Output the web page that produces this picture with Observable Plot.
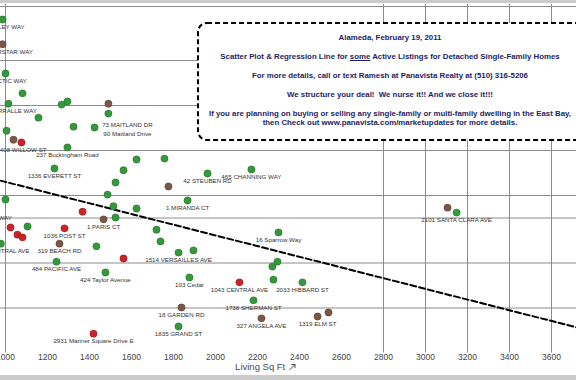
<!DOCTYPE html>
<html>
<head>
<meta charset="utf-8">
<script src="https://cdn.jsdelivr.net/npm/d3@7"></script>
<script src="https://cdn.jsdelivr.net/npm/@observablehq/plot@0.6"></script>
<style>
html,body{margin:0;padding:0;width:576px;height:380px;overflow:hidden;background:#cbcbcb;font-family:"Liberation Sans",Arial,sans-serif;}
#chart{position:absolute;left:0;top:3px;width:576px;height:372px;background:#fff;overflow:hidden;}
#chart svg.plot{position:absolute;left:0;top:0;}
#box{position:absolute;left:197px;top:19px;width:420px;height:119px;}
#box svg{position:absolute;left:0;top:0;}
.ln{position:absolute;left:-207px;width:800px;text-align:center;color:#1e1e62;font-weight:bold;white-space:nowrap;line-height:1;}
#xtitle{position:absolute;left:166px;width:200px;top:358px;text-align:center;font-size:9.5px;color:#4a4a4a;white-space:nowrap;}
</style>
</head>
<body>
<div id="chart"></div>
<script>
// ---- data (living sq ft, list price in $K, status, data label) ----
const sqft = [986, 986, 1000, 1081, 1014, 1267, 1295, 1490, 1490, 1157,
  1324, 1424, 1005, 1038, 1076, 1295, 1624, 1757, 1562, 1233,
  1524, 1776, 1962, 2171, 1000, 1486, 1367, 1514, 1624, 1524,
  1467, 1867, 1024, 1105, 1057, 1081, 1281, 1257, 1433, 978,
  1719, 1738, 1895, 1824, 1562, 1243, 1476, 1876, 1838, 1824,
  1419, 2300, 2271, 2295, 2114, 2276, 2414, 2181, 2219, 2486,
  2538, 3105, 3148];
const price = [941, 886, 821, 777, 754, 752, 759, 754, 732, 723,
  703, 701, 694, 674, 668, 657, 630, 632, 606, 610,
  579, 570, 599, 608, 541, 552, 514, 526, 521, 501,
  497, 539, 479, 481, 463, 457, 477, 443, 437, 443,
  474, 448, 428, 423, 410, 403, 379, 368, 301, 259,
  243, 468, 392, 403, 357, 363, 357, 317, 277, 281,
  290, 523, 512];
const status = ["A","P","A","A","A","A","A","P","A","A",
  "A","A","A","P","S","A","A","A","A","A",
  "A","P","A","A","A","A","S","A","A","A",
  "P","A","S","A","S","S","S","P","A","A",
  "A","A","A","A","S","A","A","A","P","A",
  "S","A","A","A","S","A","A","A","P","P",
  "P","P","A"];
const labels = ["9 GALLEY WAY","18 POLARSTAR WAY","3 ARCTIC WAY","","17 CORRALLE WAY","","","73 MAITLAND DR","90 Maitland Drive","",
  "","","","","1408 WILLOW ST","237 Buckingham Road","","","","1336 EVERETT ST",
  "","","42 STEUBEN RD","465 CHANNING WAY","1 ALDER WAY","","","","","",
  "1 PARIS CT","1 MIRANDA CT","","","","","1036 POST ST","319 BEACH RD","","1533 CENTRAL AVE",
  "","","","1514 VERSAILLES AVE","","484 PACIFIC AVE","424 Taylor Avenue","103 Cedar","18 GARDEN RD","1835 GRAND ST",
  "2931 Mariner Square Drive E","16 Sparrow Way","","","1043 CENTRAL AVE","","2033 HIBBARD ST","1738 SHERMAN ST","327 ANGELA AVE","1319 ELM ST",
  "","","2101 SANTA CLARA AVE"];
const statusKeys = ["A","P","S"];
const statusColors = ["#34993a","#7b5748","#cc2228"];
// regression line (endpoints)
const trendSqft = [976, 3719];
const trendPrice = [583, 257];
// ticks / grid
const xTicks = [1000,1200,1400,1600,1800,2000,2200,2400,2600,2800,3000,3200,3400,3600];
const xGrid = [1000,2800,3000,3200,3400,3600];
const yGrid = [300,400,500,550,650,750,850,970];
const boxLines = [
  "Alameda, February 19, 2011",
  "Scatter Plot & Regression Line for <u>some</u> Active Listings for Detached Single-Family Homes",
  "For more details, call or text Ramesh at Panavista Realty at (510) 316-5206",
  "We structure your deal!&nbsp; We nurse it!! And we close it!!!",
  "If you are planning on buying or selling any single-family or multi-family dwelling in the East Bay,",
  "then Check out www.panavista.com/marketupdates for more details."
];
const axisTitle = "Living Sq Ft";

// ---- build ----
const pts = sqft.map((s,i)=>({sqft:s, price:price[i], status:status[i], label:labels[i]}));
const trend = trendSqft.map((s,i)=>({sqft:s, price:trendPrice[i]}));
const nudge = {"73 MAITLAND DR":[19,21], "90 Maitland Drive":[19,20], "1 ALDER WAY":[-14,18]};
const lab = pts.filter(d=>d.label);
const labelStyle = {x:"sqft", y:"price", text:"label", fontSize:6.2, fill:"#333", lineAnchor:"middle"};

const marks = [
  Plot.gridY(yGrid, {stroke:"#8c8c8c", strokeOpacity:1}),
  Plot.gridX(xGrid, {stroke:"#8c8c8c", strokeOpacity:1}),
  Plot.line(trend, {x:"sqft", y:"price", stroke:"#000", strokeWidth:2, strokeDasharray:"6,3"}),
  Plot.dot(pts, {x:"sqft", y:"price", fill:"status", r:3.7, stroke:"#000", strokeOpacity:0.3, strokeWidth:0.6}),
  Plot.text(lab.filter(d=>!nudge[d.label]), {...labelStyle, dy:7.5}),
  ...Object.entries(nudge).map(([k,[dx,dy]]) => Plot.text(lab.filter(d=>d.label===k), {...labelStyle, dx, dy})),
  Plot.axisX(xTicks, {tickSize:0, tickPadding:1, fontSize:8.5, fill:"#444", label:null, tickFormat:d=>String(d)})
];

const plot = Plot.plot({
  width:576, height:372,
  marginLeft:0, marginRight:0, marginTop:0.75, marginBottom:22.5,
  style:{fontFamily:'"Liberation Sans",Arial,sans-serif', background:"transparent", overflow:"visible"},
  x:{domain:[976.2,3719]},
  y:{domain:[200,975], axis:null},
  color:{domain:statusKeys, range:statusColors},
  marks
});
plot.classList.add("plot");
const chart = document.getElementById("chart");
chart.appendChild(plot);

// text box overlay
const box = document.createElement("div");
box.id = "box";
box.innerHTML = '<svg width="420" height="119"><rect x="1" y="1" width="440" height="117" rx="9" ry="9" fill="#fff" stroke="#000" stroke-width="2" stroke-dasharray="5,3"/></svg>';
const centersY = [16, 35, 54, 73, 92, 101];
const fs = 7.85;
boxLines.forEach((t,i)=>{
  const d = document.createElement("div");
  d.className = "ln";
  d.style.fontSize = fs + "px";
  d.style.top = (centersY[i] - fs/2) + "px";
  d.innerHTML = t;
  box.appendChild(d);
});
chart.appendChild(box);

// axis title
const xt = document.createElement("div");
xt.id = "xtitle";
xt.innerHTML = axisTitle + ' <svg width="9" height="9" style="vertical-align:-1px"><path d="M1.5 8 L7 2.5 M3.5 2.5 H7 V6" fill="none" stroke="#4a4a4a" stroke-width="1"/></svg>';
chart.appendChild(xt);
</script>
</body>
</html>
